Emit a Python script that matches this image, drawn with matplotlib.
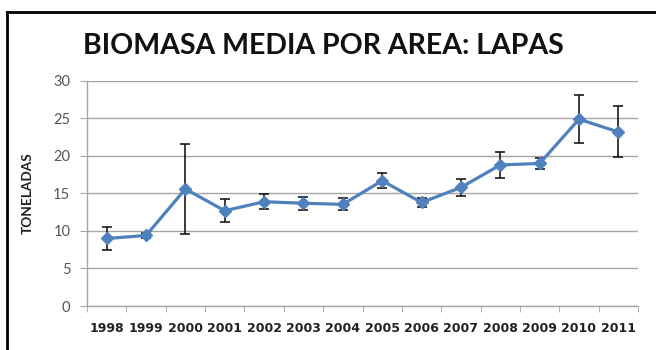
import numpy as np
import matplotlib.pyplot as plt
from matplotlib.lines import Line2D

years = ['1998', '1999', '2000', '2001', '2002', '2003', '2004',
         '2005', '2006', '2007', '2008', '2009', '2010', '2011']
biomasa = [9.0, 9.4, 15.6, 12.7, 13.9, 13.7, 13.55,
           16.7, 13.8, 15.8, 18.8, 19.0, 24.9, 23.2]
error = [1.5, 0.3, 6.0, 1.5, 1.0, 0.85, 0.8,
         1.0, 0.65, 1.15, 1.7, 0.7, 3.2, 3.4]

plt.rcParams['font.family'] = ['Lato', 'DejaVu Sans']

fig = plt.figure(figsize=(6.56, 3.5), dpi=100)
ax = fig.add_axes([0.1326, 0.1257, 0.84, 0.643])

x = np.arange(len(years))
ax.errorbar(x, biomasa, yerr=error, fmt='none', ecolor='#1a1a1a',
            elinewidth=1.2, capsize=3.5, capthick=1.2, zorder=2)
ax.plot(x, biomasa, color='#4f81bd', lw=2.3, marker='D', ms=6.5,
        markeredgecolor='#4f81bd', zorder=3)

ax.set_xlim(-0.5, len(years) - 0.5)
ax.set_ylim(0, 30)
ax.set_yticks(range(0, 31, 5))
ax.yaxis.grid(True, color='#a6a6a6', lw=1)
ax.set_axisbelow(True)

ax.set_xticks(x)
ax.set_xticklabels(years, fontweight='bold', fontsize=9, color='#222222',
                   family='DejaVu Sans')
ax.set_xticks(np.arange(-0.5, len(years)), minor=True)
ax.tick_params(axis='x', which='major', length=0, pad=11.5)
ax.tick_params(axis='x', which='minor', length=4, color='#a6a6a6')
ax.tick_params(axis='y', length=5, color='#a6a6a6', labelsize=10.5,
               labelcolor='#555555', pad=7)

for s in ['top', 'right']:
    ax.spines[s].set_visible(False)
for s in ['left', 'bottom']:
    ax.spines[s].set_color('#a6a6a6')
    ax.spines[s].set_linewidth(1)

ax.set_ylabel('TONELADAS', fontweight='bold', fontsize=9.8, color='#222222',
              labelpad=14)

fig.text(0.127, 0.87, 'BIOMASA MEDIA POR AREA: LAPAS', fontsize=20.5,
         fontweight='bold', color='#111111', va='center')

# frame on top and left edges
fig.add_artist(Line2D([7 / 656, 7 / 656], [0, 1 - 12 / 350],
                      transform=fig.transFigure, color='black', lw=2))
fig.add_artist(Line2D([7 / 656, 1], [1 - 12 / 350, 1 - 12 / 350],
                      transform=fig.transFigure, color='black', lw=2))

fig.savefig('out.png', dpi=100)
